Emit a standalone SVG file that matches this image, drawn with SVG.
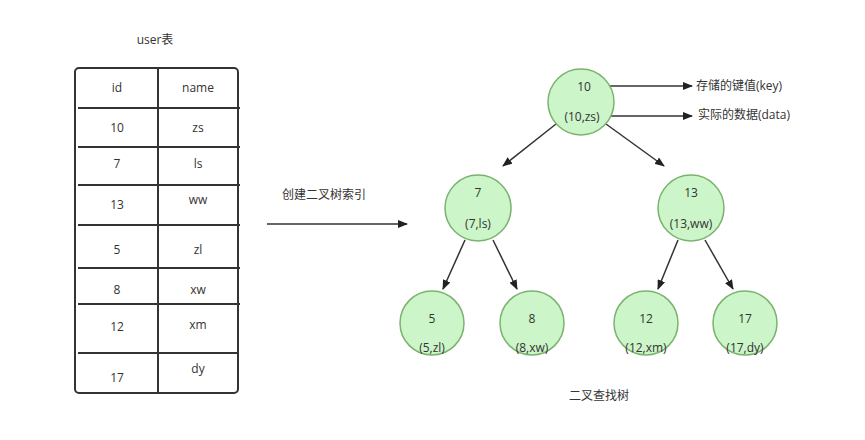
<svg xmlns="http://www.w3.org/2000/svg" width="865" height="440" viewBox="0 0 865 440">
<defs>
<marker id="ar" markerWidth="10" markerHeight="8" refX="9" refY="4" orient="auto" markerUnits="userSpaceOnUse"><path d="M0,0 L10,4 L0,8 z" fill="#222"/></marker>
<style>
text{font-family:"Open Sans","Noto Sans CJK SC",sans-serif;font-size:12px;fill:#333;text-anchor:middle}
.n circle{fill:#ccf5c9;stroke:#7bb36e;stroke-width:1.5}
.c line{stroke:#333;stroke-width:1.5;marker-end:url(#ar)}
.t line{stroke:#333;stroke-width:2}
</style>
</defs>
<rect width="865" height="440" fill="#fff"/>
<text x="155" y="44">user表</text>
<g id="table" class="t">
<rect x="75" y="68" width="163" height="325" rx="4" fill="none" stroke="#333" stroke-width="2"/>
<line x1="158" y1="68" x2="158" y2="393"/>
<line x1="78" y1="108" x2="240" y2="108"/>
<line x1="78" y1="147" x2="240" y2="147"/>
<line x1="78" y1="185" x2="240" y2="185"/>
<line x1="78" y1="225" x2="240" y2="225"/>
<line x1="78" y1="268" x2="240" y2="268"/>
<line x1="78" y1="304" x2="240" y2="304"/>
<line x1="78" y1="353" x2="238" y2="353"/>
<text x="117" y="92">id</text><text x="198" y="92">name</text>
<text x="117" y="132">10</text><text x="198" y="132">zs</text>
<text x="117" y="168">7</text><text x="198" y="168">ls</text>
<text x="117" y="209">13</text><text x="198" y="204">ww</text>
<text x="117" y="254">5</text><text x="198" y="254">zl</text>
<text x="117" y="294">8</text><text x="198" y="294">xw</text>
<text x="117" y="331">12</text><text x="198" y="329">xm</text>
<text x="117" y="382">17</text><text x="198" y="373">dy</text>
</g>
<text x="324" y="199">创建二叉树索引</text>
<text x="599" y="400">二叉查找树</text>
<text x="739" y="90">存储的键值(key)</text>
<text x="744" y="119">实际的数据(data)</text>
<g id="connectors" class="c">
<line x1="267" y1="224" x2="407" y2="224"/>
<line x1="596" y1="86" x2="692" y2="86"/>
<line x1="605" y1="116" x2="692" y2="116"/>
<line x1="556" y1="124" x2="503" y2="166"/>
<line x1="606" y1="124" x2="664" y2="166"/>
<line x1="465" y1="240" x2="443" y2="289"/>
<line x1="493" y1="240" x2="517" y2="289"/>
<line x1="678" y1="240" x2="658" y2="289"/>
<line x1="705" y1="240" x2="733" y2="289"/>
</g>
<g id="n10" class="n"><circle cx="581" cy="102" r="33"/><text x="584" y="91">10</text><text x="582" y="121">(10,zs)</text></g>
<g id="n7" class="n"><circle cx="478" cy="208" r="33"/><text x="478" y="197">7</text><text x="478" y="228">(7,ls)</text></g>
<g id="n13" class="n"><circle cx="691" cy="208" r="33"/><text x="691" y="197">13</text><text x="691" y="228">(13,ww)</text></g>
<g id="n5" class="n"><circle cx="432" cy="323" r="32"/><text x="432" y="323">5</text><text x="432" y="352">(5,zl)</text></g>
<g id="n8" class="n"><circle cx="532" cy="323" r="32"/><text x="532" y="323">8</text><text x="532" y="352">(8,xw)</text></g>
<g id="n12" class="n"><circle cx="646" cy="323" r="32"/><text x="646" y="323">12</text><text x="646" y="352">(12,xm)</text></g>
<g id="n17" class="n"><circle cx="745" cy="323" r="32"/><text x="745" y="323">17</text><text x="745" y="352">(17,dy)</text></g>
</svg>
